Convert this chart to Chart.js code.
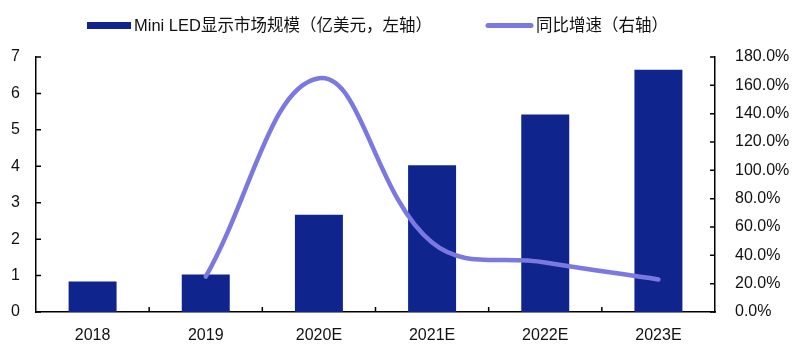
<!DOCTYPE html>
<html>
<head>
<meta charset="utf-8">
<script src="https://cdn.jsdelivr.net/npm/chart.js@4/dist/chart.umd.min.js"></script>
<style>
html,body{margin:0;padding:0;background:#fff;}
#wrap{width:800px;height:356px;position:relative;}
</style>
</head>
<body>
<div id="wrap"><canvas id="c" width="800" height="356"></canvas></div>
<script>
const categories = ['2018', '2019', '2020E', '2021E', '2022E', '2023E'];
const marketSize = [0.84, 1.03, 2.67, 4.03, 5.42, 6.65];
const growthRate = [null, 25, 165, 49, 35, 23];
const leftTicks = [0, 1, 2, 3, 4, 5, 6, 7];
const rightTicks = [0, 20, 40, 60, 80, 100, 120, 140, 160, 180];
const barLabel = 'Mini LED显示市场规模（亿美元，左轴）';
const lineLabel = '同比增速（右轴）';

const BAR_COLOR = '#10248e';
const LINE_COLOR = '#7b78e2';
const TICK_FONT = {family: '"Liberation Sans", Arial, sans-serif', size: 16};

const innerTicks = {
  id: 'innerTicks',
  afterDatasetsDraw(chart) {
    const ctx = chart.ctx;
    const a = chart.chartArea;
    ctx.save();
    ctx.strokeStyle = '#000';
    ctx.lineWidth = 1.5;
    const y = chart.scales.y, y1 = chart.scales.y1, x = chart.scales.x;
    ctx.beginPath();
    y.ticks.forEach(t => { const p = y.getPixelForValue(t.value); ctx.moveTo(a.left, p); ctx.lineTo(a.left + 5, p); });
    y1.ticks.forEach(t => { const p = y1.getPixelForValue(t.value); ctx.moveTo(a.right, p); ctx.lineTo(a.right - 5, p); });
    for (let i = 1; i < categories.length; i++) {
      const p = (x.getPixelForValue(i - 1) + x.getPixelForValue(i)) / 2;
      ctx.moveTo(p, a.bottom); ctx.lineTo(p, a.bottom - 5);
    }
    ctx.stroke();
    ctx.restore();
  }
};

const customLegend = {
  id: 'customLegend',
  afterDraw(chart) {
    const ctx = chart.ctx;
    ctx.save();
    const ds = chart.data.datasets;
    ctx.font = '16.5px "Liberation Sans Narrow", "Liberation Sans", "Noto Sans CJK SC", sans-serif';
    ctx.textBaseline = 'middle';
    ctx.fillStyle = ds[1].backgroundColor;
    ctx.fillRect(87, 22, 44, 7);
    ctx.fillStyle = '#111';
    ctx.fillText(ds[1].label, 134, 26);
    ctx.strokeStyle = ds[0].borderColor;
    ctx.lineWidth = 5;
    ctx.lineCap = 'round';
    ctx.beginPath(); ctx.moveTo(488, 25.5); ctx.lineTo(531, 25.5); ctx.stroke();
    ctx.fillStyle = '#111';
    ctx.fillText(ds[0].label, 536, 26);
    ctx.restore();
  }
};

new Chart(document.getElementById('c'), {
  data: {
    labels: categories,
    datasets: [
      {
        type: 'line', label: lineLabel, data: growthRate, yAxisID: 'y1',
        borderColor: LINE_COLOR, borderWidth: 4.5, tension: 0.4,
        pointRadius: 0, borderCapStyle: 'round', fill: false, order: 0
      },
      {
        type: 'bar', label: barLabel, data: marketSize, yAxisID: 'y',
        backgroundColor: BAR_COLOR, categoryPercentage: 1, barPercentage: 0.424, order: 1
      }
    ]
  },
  options: {
    responsive: false,
    animation: false,
    devicePixelRatio: 1,
    layout: {padding: {top: 57, left: 0, right: 0, bottom: 0}},
    plugins: {legend: {display: false}, tooltip: {enabled: false}},
    scales: {
      x: {
        offset: true,
        grid: {display: false, drawTicks: false},
        border: {display: true, color: '#000', width: 1.5},
        ticks: {color: '#111', font: TICK_FONT, padding: 14, maxRotation: 0},
        afterFit(s) { s.height = 44; }
      },
      y: {
        position: 'left', min: 0, max: 7,
        afterBuildTicks(s) { s.ticks = leftTicks.map(v => ({value: v})); },
        grid: {display: false, drawTicks: false},
        border: {display: true, color: '#000', width: 1.5},
        ticks: {color: '#111', font: TICK_FONT, padding: 16},
        afterFit(s) { s.width = 36; }
      },
      y1: {
        position: 'right', min: 0, max: 180,
        afterBuildTicks(s) { s.ticks = rightTicks.map(v => ({value: v})); },
        grid: {display: false, drawTicks: false},
        border: {display: true, color: '#000', width: 1.5},
        ticks: {color: '#111', font: TICK_FONT, padding: 20, callback: v => v.toFixed(1) + '%'},
        afterFit(s) { s.width = 85; }
      }
    }
  },
  plugins: [innerTicks, customLegend]
});
</script>
</body>
</html>
